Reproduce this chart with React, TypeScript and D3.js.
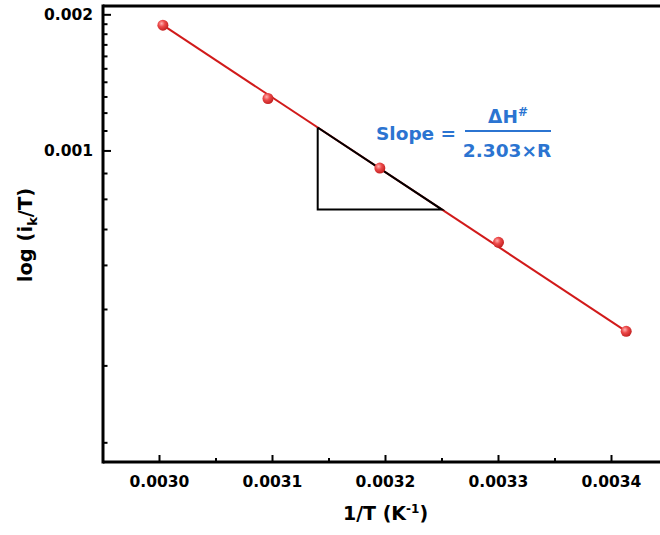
import React from 'react'
import * as d3 from 'd3'

// 1/T values (K^-1) and log(ik/T) values
const invT = [0.003003, 0.003096, 0.003195, 0.0033, 0.003413]
const ikT = [0.00189, 0.00129, 0.000923, 0.000662, 0.000458]

const xMajorTicks = [0.003, 0.0031, 0.0032, 0.0033, 0.0034]
const xMinorTicks = [0.00305, 0.00315, 0.00325, 0.00335]
const yMajorTicks = [0.001, 0.002]
const yMinorTicks = [
  0.0003, 0.0004, 0.0005, 0.0006, 0.0007, 0.0008, 0.0009,
  0.0011, 0.0012, 0.0013, 0.0014, 0.0015, 0.0016, 0.0017, 0.0018, 0.0019,
]
// slope triangle: x of the vertical leg and of the right corner
const triangleX = [0.00314, 0.00325]

const W = 660
const H = 535
const left = 103
const right = 668
const top = 6
const bottom = 462

const font = '"DejaVu Sans", Verdana, sans-serif'
const blue = '#2b74d1'

const App = () => {
  const x = d3.scaleLinear().domain([0.00295, 0.00345]).range([left, right])
  const y = d3.scalePow().exponent(-0.22).domain([0.00028, 0.0021]).range([bottom, top])

  const pts = invT.map((v, i) => [x(v), y(ikT[i])])
  const first = pts[0]
  const last = pts[pts.length - 1]
  // straight fit line in the plotted space
  const fitY = (px: number) => first[1] + ((px - first[0]) * (last[1] - first[1])) / (last[0] - first[0])

  const tx1 = x(triangleX[0])
  const tx2 = x(triangleX[1])
  const triangle = d3.line()([
    [tx1, fitY(tx1)],
    [tx1, fitY(tx2)],
    [tx2, fitY(tx2)],
    [tx1, fitY(tx1)],
  ])

  const fmtX = d3.format('.4f')
  const fmtY = d3.format('.3f')

  return (
    <svg width={W} height={H} style={{ position: 'absolute', left: 0, top: 0, background: '#fff' }}>
      <defs>
        <radialGradient id="ball" cx="38%" cy="35%" r="65%">
          <stop offset="0%" stopColor="#ffb0b0" />
          <stop offset="45%" stopColor="#ec4a4a" />
          <stop offset="100%" stopColor="#c42222" />
        </radialGradient>
      </defs>

      {/* fit line */}
      <line x1={first[0]} y1={first[1]} x2={last[0]} y2={last[1]} stroke="#d11a1a" strokeWidth={2} />

      {/* slope triangle */}
      <path d={triangle ?? ''} fill="none" stroke="#000" strokeWidth={2} strokeLinejoin="miter" />

      {/* points */}
      {pts.map((p, i) => (
        <circle key={i} cx={p[0]} cy={p[1]} r={5.5} fill="url(#ball)" />
      ))}

      {/* axes frame */}
      <g stroke="#000" strokeWidth={3} fill="none">
        <line x1={left} y1={top} x2={right} y2={top} />
        <line x1={left} y1={top - 1.5} x2={left} y2={bottom + 1.5} />
        <line x1={left} y1={bottom} x2={right} y2={bottom} />
      </g>

      {/* ticks */}
      <g stroke="#000" strokeWidth={2}>
        {xMajorTicks.map((t) => (
          <line key={t} x1={x(t)} x2={x(t)} y1={bottom} y2={bottom - 7} />
        ))}
        {xMinorTicks.map((t) => (
          <line key={t} x1={x(t)} x2={x(t)} y1={bottom} y2={bottom - 4} />
        ))}
        {yMajorTicks.map((t) => (
          <line key={t} x1={left} x2={left + 8} y1={y(t)} y2={y(t)} />
        ))}
        {yMinorTicks.map((t) => (
          <line key={t} x1={left} x2={left + 4.5} y1={y(t)} y2={y(t)} />
        ))}
      </g>

      <g fontFamily={font} fontWeight="bold" fill="#000">
        {xMajorTicks.map((t) => (
          <text key={t} x={x(t)} y={487} fontSize={15.5} textAnchor="middle">
            {fmtX(t)}
          </text>
        ))}
        {yMajorTicks.map((t) => (
          <text key={t} x={93} y={y(t) + 5.5} fontSize={15.5} textAnchor="end">
            {fmtY(t)}
          </text>
        ))}

        <text x={(left + right) / 2} y={520} fontSize={19} textAnchor="middle">
          1/T (K<tspan dy={-7} fontSize={12}>-1</tspan>
          <tspan dy={7}>)</tspan>
        </text>

        <text transform={`translate(32, 235) rotate(-90)`} fontSize={19.5} textAnchor="middle">
          log (i<tspan dy={5} fontSize={13}>k</tspan>
          <tspan dy={-5}>/T)</tspan>
        </text>
      </g>

      {/* slope annotation */}
      <g fontFamily={font} fontWeight="bold" fill={blue}>
        <text x={376} y={140} fontSize={18.5}>Slope =</text>
        <text x={508} y={123} fontSize={18.5} textAnchor="middle">
          ΔH<tspan dy={-7} fontSize={12}>#</tspan>
        </text>
        <line x1={465} x2={551} y1={131} y2={131} stroke={blue} strokeWidth={1.8} />
        <text x={507} y={157} fontSize={18.5} textAnchor="middle">2.303×R</text>
      </g>
    </svg>
  )
}

export default App
